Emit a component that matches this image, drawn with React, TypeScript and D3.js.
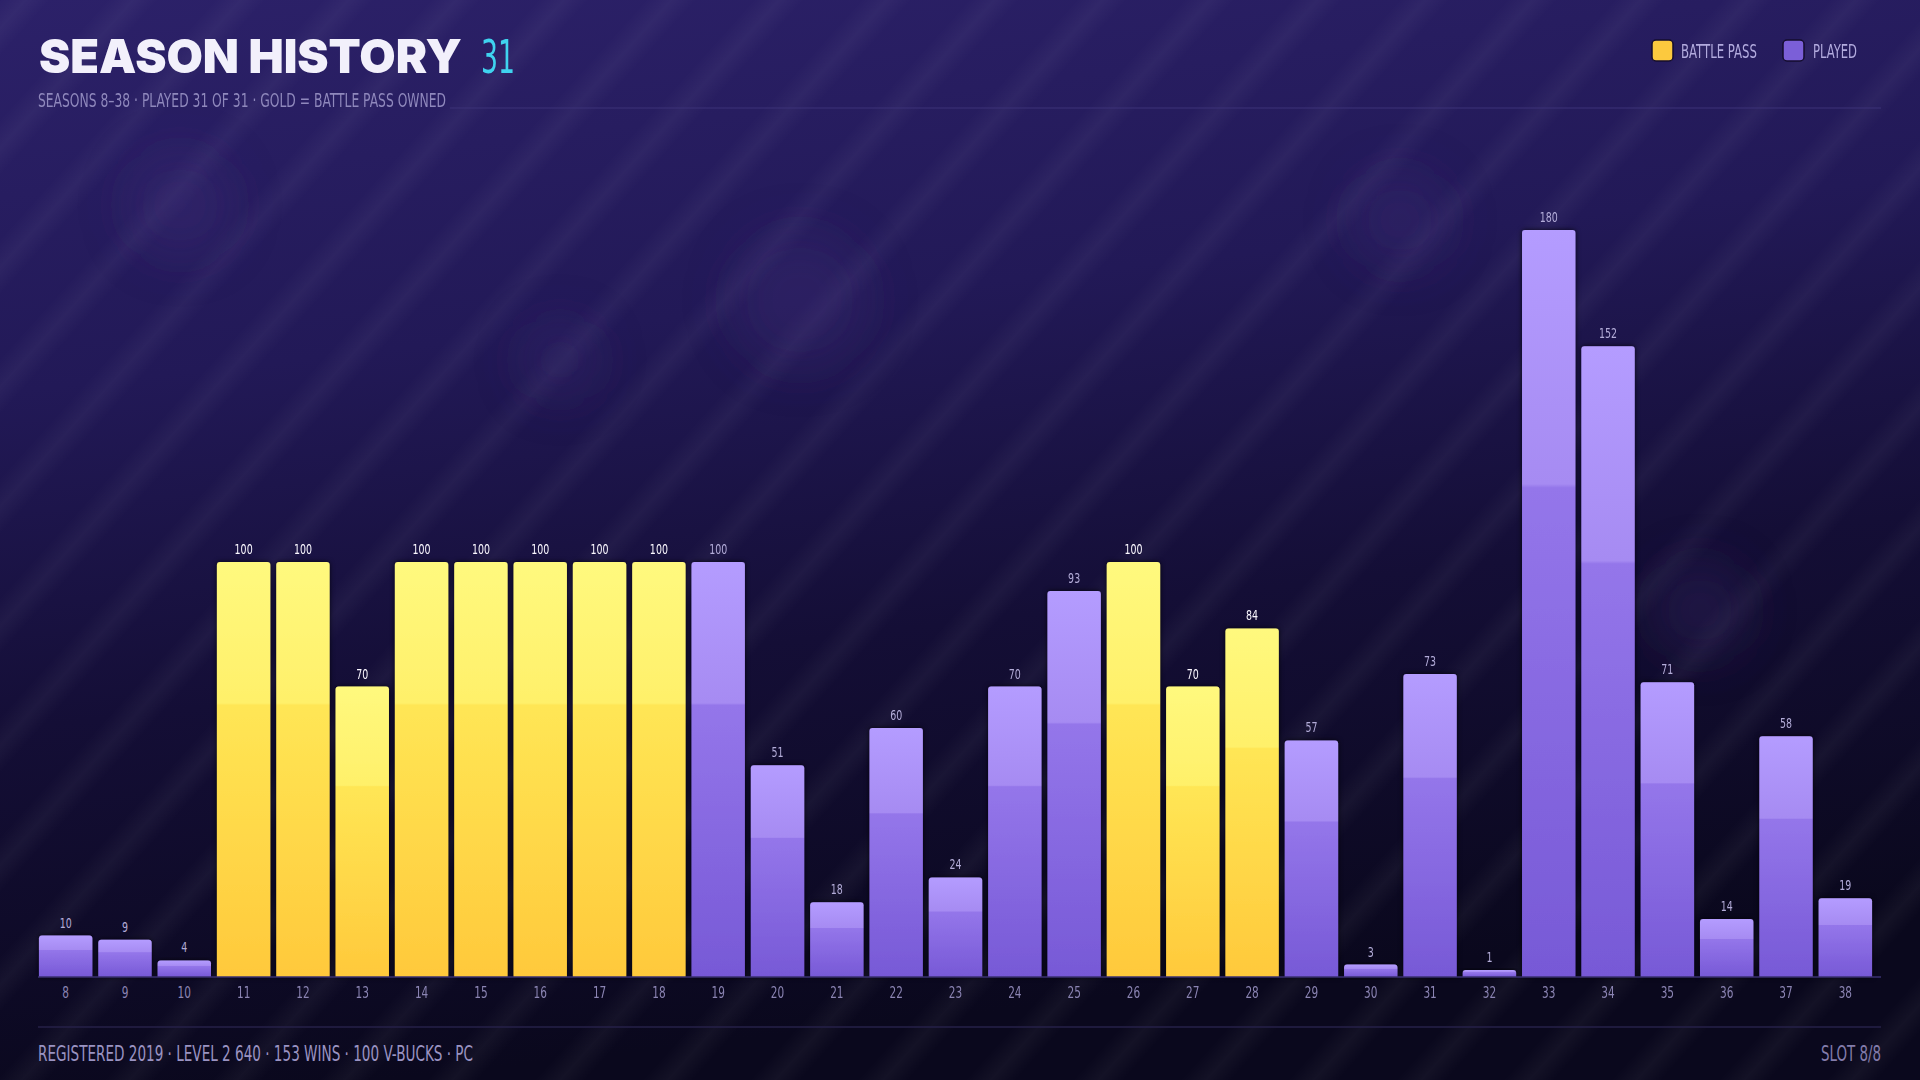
import React from "react";
import * as d3 from "d3";

const seasons: string[] = ["8","9","10","11","12","13","14","15","16","17","18","19","20","21","22","23","24","25","26","27","28","29","30","31","32","33","34","35","36","37","38"];
const levels: number[] = [10,9,4,100,100,70,100,100,100,100,100,100,51,18,60,24,70,93,100,70,84,57,3,73,1,180,152,71,14,58,19];
const battlePass: boolean[] = [false,false,false,true,true,true,true,true,true,true,true,false,false,false,false,false,false,false,true,true,true,false,false,false,false,false,false,false,false,false,false];
const legendItems: string[] = ["BATTLE PASS", "PLAYED"];
const titleText = "SEASON HISTORY";
const titleCount = "31";
const subtitleText = "SEASONS 8–38  ·  PLAYED 31 OF 31  ·  GOLD = BATTLE PASS OWNED";
const footerText = "REGISTERED 2019  ·  LEVEL 2 640  ·  153 WINS  ·  100 V-BUCKS  ·  PC";
const slotText = "SLOT 8/8";

const W = 1920;
const H = 1080;
const COND = "'Liberation Sans Narrow', 'DejaVu Sans Condensed', 'DejaVu Sans', sans-serif";

export default function App() {
  const data = seasons.map((s, i) => ({ s, v: levels[i], bp: battlePass[i] }));
  const x = d3.scaleBand<string>().domain(seasons).range([36, 1875]).paddingInner(0.1).paddingOuter(0.05);
  const y = d3.scaleLinear().domain([0, 200]).range([977, 147]);
  const base = y(0);

  const bokeh = [
    { cx: 180, cy: 205, r: 55 },
    { cx: 800, cy: 300, r: 70 },
    { cx: 1400, cy: 220, r: 50 },
    { cx: 1700, cy: 610, r: 50 },
    { cx: 560, cy: 360, r: 40 },
  ];

  return (
    <svg width={W} height={H} viewBox={`0 0 ${W} ${H}`} style={{ position: "absolute", left: 0, top: 0, display: "block" }}>
      <defs>
        <linearGradient id="bg" x1="0" y1="0" x2="0.2" y2="1">
          <stop offset="0" stopColor="#2c2169" />
          <stop offset="0.35" stopColor="#221957" />
          <stop offset="0.65" stopColor="#140e36" />
          <stop offset="1" stopColor="#0a081d" />
        </linearGradient>
        <linearGradient id="stripeG" x1="0" y1="0" x2="1" y2="0">
          <stop offset="0" stopColor="#ffffff" stopOpacity="0" />
          <stop offset="0.5" stopColor="#ffffff" stopOpacity="0.04" />
          <stop offset="1" stopColor="#ffffff" stopOpacity="0" />
        </linearGradient>
        <pattern id="stripes" width="80" height="80" patternUnits="userSpaceOnUse" patternTransform="rotate(42)">
          <rect x="0" y="0" width="38" height="80" fill="url(#stripeG)" />
        </pattern>
        <filter id="blur" x="-100%" y="-100%" width="300%" height="300%">
          <feGaussianBlur stdDeviation="24" />
        </filter>
        <filter id="shadow" x="-20%" y="-20%" width="140%" height="140%">
          <feDropShadow dx="0" dy="0" stdDeviation="2.5" floodColor="#05030f" floodOpacity="0.8" />
        </filter>
        <linearGradient id="goldG" x1="0" y1="0" x2="0" y2="1">
          <stop offset="0" stopColor="#fff97e" />
          <stop offset="0.34" stopColor="#fff06a" />
          <stop offset="0.345" stopColor="#ffe655" />
          <stop offset="1" stopColor="#ffc93b" />
        </linearGradient>
        <linearGradient id="purpG" x1="0" y1="0" x2="0" y2="1">
          <stop offset="0" stopColor="#b49cff" />
          <stop offset="0.34" stopColor="#a68bf2" />
          <stop offset="0.345" stopColor="#9476ea" />
          <stop offset="1" stopColor="#7759d6" />
        </linearGradient>
      </defs>

      <rect x={0} y={0} width={W} height={H} fill="url(#bg)" />
      <rect x={0} y={0} width={W} height={H} fill="url(#stripes)" />
      <g filter="url(#blur)">
        {bokeh.map((b, i) => (
          <circle key={i} cx={b.cx} cy={b.cy} r={b.r} fill="#4a3a8e" opacity={0.2} />
        ))}
      </g>

      {/* Header */}
      <text x={39} y={73} fill="#f2f0fb" fontFamily="Inter, Lato, sans-serif" fontWeight={900} fontSize={47}
        textLength={423} lengthAdjust="spacingAndGlyphs">{titleText}</text>
      <text x={481} y={73} fill="#3fd3ef" fontFamily={COND} fontSize={47}
        textLength={34} lengthAdjust="spacingAndGlyphs">{titleCount}</text>
      <text x={38} y={107} fill="#8f88bc" fontFamily={COND} fontSize={20}
        textLength={408} lengthAdjust="spacingAndGlyphs">{subtitleText}</text>
      <line x1={450} x2={1881} y1={108} y2={108} stroke="#3d3378" strokeWidth={1.2} />

      {/* Legend */}
      {legendItems.map((t, i) => {
        const sx = i === 0 ? 1652 : 1783;
        const tx = i === 0 ? 1681 : 1813;
        const tw = i === 0 ? 76 : 44;
        return (
          <g key={t}>
            <rect x={sx} y={40} width={21} height={21} rx={4} fill={i === 0 ? "#fcc93e" : "#7b5fd8"} stroke="#140d2e" strokeWidth={1.5} />
            <text x={tx} y={57.5} fill="#b2abde" fontFamily={COND} fontSize={19.5} textLength={tw} lengthAdjust="spacingAndGlyphs">{t}</text>
          </g>
        );
      })}

      {/* Bars */}
      {data.map((d) => {
        const bx = x(d.s) as number;
        const bw = x.bandwidth();
        const top = Math.min(y(d.v), base - 7);
        const r = 3;
        const path = `M${bx},${base} L${bx},${top + r} Q${bx},${top} ${bx + r},${top} L${bx + bw - r},${top} Q${bx + bw},${top} ${bx + bw},${top + r} L${bx + bw},${base} Z`;
        return (
          <g key={d.s}>
            <path d={path} fill={d.bp ? "url(#goldG)" : "url(#purpG)"} filter="url(#shadow)" />
            <text transform={`translate(${bx + bw / 2},${top - 8}) scale(0.78,1)`} textAnchor="middle"
              fill={d.bp ? "#fbf8ff" : "#b3acd8"} fontFamily={COND} fontSize={13.5}>{d.v}</text>
          </g>
        );
      })}
      <line x1={38} x2={1881} y1={base} y2={base} stroke="#3a3070" strokeWidth={1.5} />

      {/* X axis labels */}
      {seasons.map((s) => (
        <text key={s} transform={`translate(${(x(s) as number) + x.bandwidth() / 2},998) scale(0.78,1)`} textAnchor="middle"
          fill="#8b84b3" fontFamily={COND} fontSize={15}>{s}</text>
      ))}

      {/* Footer */}
      <line x1={38} x2={1881} y1={1027} y2={1027} stroke="#262048" strokeWidth={1.5} />
      <text x={38} y={1061} fill="#9a93c2" fontFamily={COND} fontSize={21.5}
        textLength={435} lengthAdjust="spacingAndGlyphs">{footerText}</text>
      <text x={1881} y={1061} fill="#837cab" fontFamily={COND} fontSize={21.5} textAnchor="end"
        textLength={60} lengthAdjust="spacingAndGlyphs">{slotText}</text>
    </svg>
  );
}
